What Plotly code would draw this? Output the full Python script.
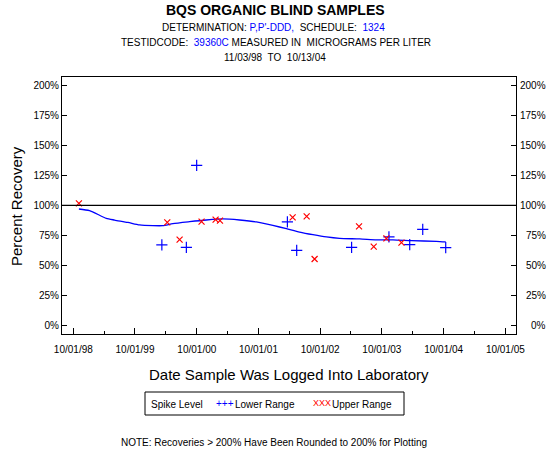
import plotly.graph_objects as go

# ---------------- data ----------------
lower_dates = ["2000-03-08", "2000-07-31", "2000-09-30", "2002-03-21", "2002-05-15",
               "2003-04-05", "2003-11-12", "2004-03-14", "2004-05-30", "2004-10-13"]
lower_pct = [67.0, 65.0, 133.3, 86.2, 62.5, 65.0, 73.7, 67.3, 80.0, 64.8]

upper_dates = ["1998-11-03", "2000-04-09", "2000-06-21", "2000-10-29", "2001-01-20",
               "2001-02-15", "2002-04-21", "2002-07-13", "2002-08-29", "2003-05-19",
               "2003-08-14", "2003-10-28", "2004-01-25"]
upper_pct = [101.7, 85.8, 71.4, 86.4, 88.1, 87.3, 90.0, 90.8, 55.3, 82.5, 65.6, 72.5, 68.9]

trend_dates = ["1998-11-03", "1999-01-05", "1999-04-14", "1999-06-02", "1999-08-20",
               "1999-10-28", "2000-01-15", "2000-03-14", "2000-05-12", "2000-08-19",
               "2000-11-26", "2001-03-04", "2001-06-11", "2001-09-18", "2001-12-25",
               "2002-03-15", "2002-06-01", "2002-08-19", "2002-11-07", "2003-01-24",
               "2003-05-23", "2003-08-30", "2003-12-06", "2004-03-24", "2004-08-19",
               "2004-10-13"]
trend_pct = [97.0, 95.6, 89.2, 87.8, 85.8, 83.7, 83.1, 83.1, 84.8, 86.4,
             87.8, 88.7, 87.8, 86.2, 83.3, 80.6, 77.8, 75.6, 73.7, 72.5,
             72.0, 71.2, 71.2, 70.6, 70.0, 69.5]

reference_pct = 100

y_tick_vals = [0, 25, 50, 75, 100, 125, 150, 175, 200]
y_tick_text = ["0%", "25%", "50%", "75%", "100%", "125%", "150%", "175%", "200%"]

x_tick_vals = ["1998-10-01", "1999-10-01", "2000-10-01", "2001-10-01",
               "2002-10-01", "2003-10-01", "2004-10-01", "2005-10-01"]
x_tick_text = ["10/01/98", "10/01/99", "10/01/00", "10/01/01",
               "10/01/02", "10/01/03", "10/01/04", "10/01/05"]
x_minor_vals = ["1999-04-01", "2000-04-01", "2001-04-01", "2002-04-01",
                "2003-04-01", "2004-04-01", "2005-04-01"]

x_range = ["1998-07-26", "2005-12-03"]
y_range = [-7.2, 207.0]

# ---------------- layout geometry ----------------
W, H = 550, 450
L, R, T, B = 62, 34, 77, 116
PW, PH = W - L - R, H - T - B
FONT = "Liberation Sans, Arial, sans-serif"
BLUE = "#0000FF"
RED = "#FF0000"


def px_x(x):
    return (x - L) / PW


def px_y(y):
    return (H - B - y) / PH


fig = go.Figure()

fig.add_trace(go.Scatter(
    x=trend_dates, y=trend_pct, mode="lines",
    line=dict(color=BLUE, width=1.3, shape="spline", smoothing=0.6),
    hoverinfo="skip", showlegend=False))

fig.add_trace(go.Scatter(
    x=lower_dates, y=lower_pct, mode="markers",
    marker=dict(symbol="cross-thin", size=8, line=dict(color=BLUE, width=1.2)),
    showlegend=False))

fig.add_trace(go.Scatter(
    x=upper_dates, y=upper_pct, mode="markers",
    marker=dict(symbol="x-thin", size=6, line=dict(color=RED, width=1.2)),
    showlegend=False))

# invisible trace carrying the right-hand axis
fig.add_trace(go.Scatter(
    x=[x_range[0]], y=[reference_pct], yaxis="y2", mode="markers",
    marker=dict(opacity=0), hoverinfo="skip", showlegend=False))

fig.add_hline(y=reference_pct, line=dict(color="black", width=1.3))

axis_font = dict(family=FONT, size=10, color="black")

fig.update_layout(
    width=W, height=H,
    margin=dict(l=L, r=R, t=T, b=B, pad=0),
    paper_bgcolor="white", plot_bgcolor="white",
    showlegend=False,
    xaxis=dict(
        type="date", range=x_range,
        tickmode="array", tickvals=x_tick_vals, ticktext=x_tick_text,
        ticks="inside", ticklen=6, tickwidth=1, tickcolor="black",
        ticklabelstandoff=6,
        minor=dict(tickvals=x_minor_vals, ticks="inside", ticklen=3,
                   tickwidth=1, tickcolor="black", showgrid=False),
        showline=True, linecolor="black", linewidth=1, mirror=True,
        showgrid=False, zeroline=False, tickfont=axis_font),
    yaxis=dict(
        range=y_range, tickmode="array", tickvals=y_tick_vals, ticktext=y_tick_text,
        ticks="inside", ticklen=5, tickwidth=1, tickcolor="black",
        showline=True, linecolor="black", linewidth=1, mirror=True,
        showgrid=False, zeroline=False, tickfont=axis_font),
    yaxis2=dict(
        range=y_range, overlaying="y", side="right",
        tickmode="array", tickvals=y_tick_vals,
        ticks="inside", ticklen=5, tickwidth=1, tickcolor="black",
        showticklabels=False,
        showline=False, showgrid=False, zeroline=False),
)

ann = []


def text(x, y, s, size=10, color="black", xanchor="center", bold=False, angle=0):
    ann.append(dict(
        x=px_x(x), y=px_y(y), xref="paper", yref="paper", text=s, showarrow=False,
        xanchor=xanchor, yanchor="middle", textangle=angle,
        font=dict(family=FONT, size=size, color=color,
                  weight="bold" if bold else "normal")))


# right-hand tick labels (right-aligned near the page edge, as in the reference)
for v, t in zip(y_tick_vals, y_tick_text):
    ann.append(dict(x=px_x(548), y=v, xref="paper", yref="y", text=t,
                    showarrow=False, xanchor="right", yanchor="middle",
                    font=axis_font))

text(275, 10, "BQS ORGANIC BLIND SAMPLES", size=14, bold=True)
text(273, 27, "DETERMINATION: <span style='color:%s'>P,P'-DDD,</span>  SCHEDULE:  "
              "<span style='color:%s'>1324</span>" % (BLUE, BLUE), size=10)
text(276, 42, "TESTIDCODE:  <span style='color:%s'>39360C</span> MEASURED IN  "
              "MICROGRAMS PER LITER" % BLUE, size=10)
text(275, 57, "11/03/98  TO  10/13/04", size=10)

text(289, 374, "Date Sample Was Logged Into Laboratory", size=15)
text(16, 206, "Percent Recovery", size=15, angle=-90)

# legend box
fig.add_shape(type="rect", xref="paper", yref="paper",
              x0=px_x(145), x1=px_x(404), y0=px_y(415), y1=px_y(392),
              line=dict(color="black", width=1), fillcolor="white")
text(149, 404, "Spike Level", size=10, xanchor="left")
text(214, 403, "+++", size=10, color=BLUE, xanchor="left")
text(233, 404, "Lower Range", size=10, xanchor="left")
text(311, 403, "XXX", size=9, color=RED, xanchor="left")
text(330, 404, "Upper Range", size=10, xanchor="left")

text(274, 442, "NOTE: Recoveries > 200% Have Been Rounded to 200% for Plotting", size=10)

fig.update_layout(annotations=ann)

# remove the default page margin so the 550x450 figure fills the window exactly
fig.write_html("out.html",
               config={"displayModeBar": False},
               post_script="document.body.style.margin='0';"
                           "document.body.style.overflow='hidden';")
